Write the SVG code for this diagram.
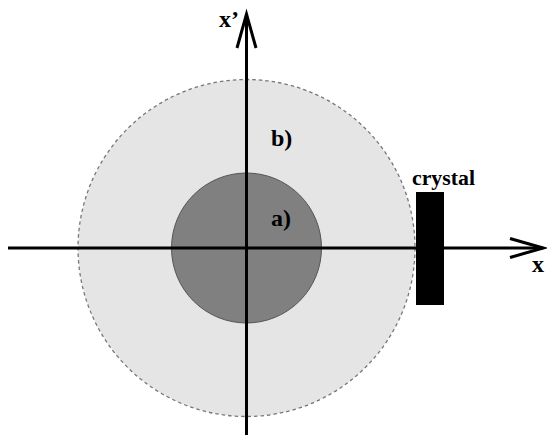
<svg xmlns="http://www.w3.org/2000/svg" width="547" height="435" viewBox="0 0 547 435">
<style>
.lbl{font-family:"Liberation Serif","Times New Roman",serif;font-weight:bold;fill:#000}
.ax{stroke:#000;stroke-width:3;fill:none}
.head{stroke:#000;stroke-width:3;fill:none;stroke-linejoin:miter}
</style>
<rect width="547" height="435" fill="#fff"/>
<g id="region-b">
<circle cx="246.5" cy="248" r="168.5" fill="#e5e5e5" stroke="#777" stroke-width="1.3" stroke-dasharray="3.5,3"/>
<text class="lbl" x="271" y="146" font-size="24">b)</text>
</g>
<g id="region-a">
<circle cx="246.5" cy="248" r="75" fill="#808080" stroke="#555" stroke-width="1"/>
<text class="lbl" x="271" y="226" font-size="24">a)</text>
</g>
<g id="crystal">
<rect x="416" y="192" width="28" height="113" fill="#000"/>
<text class="lbl" x="412" y="185" font-size="21" textLength="63" lengthAdjust="spacingAndGlyphs">crystal</text>
</g>
<g id="connectors">
<line class="ax" x1="8" y1="248" x2="543" y2="248"/>
<polyline class="head" points="510,238.5 543,248 510,257.5"/>
<line class="ax" x1="246.5" y1="435" x2="246.5" y2="14"/>
<polyline class="head" points="237,48 246.5,14 256,48"/>
</g>
<g id="labels">
<text class="lbl" x="532" y="272" font-size="24">x</text>
<text class="lbl" x="219" y="27" font-size="24">x’</text>
</g>
</svg>
